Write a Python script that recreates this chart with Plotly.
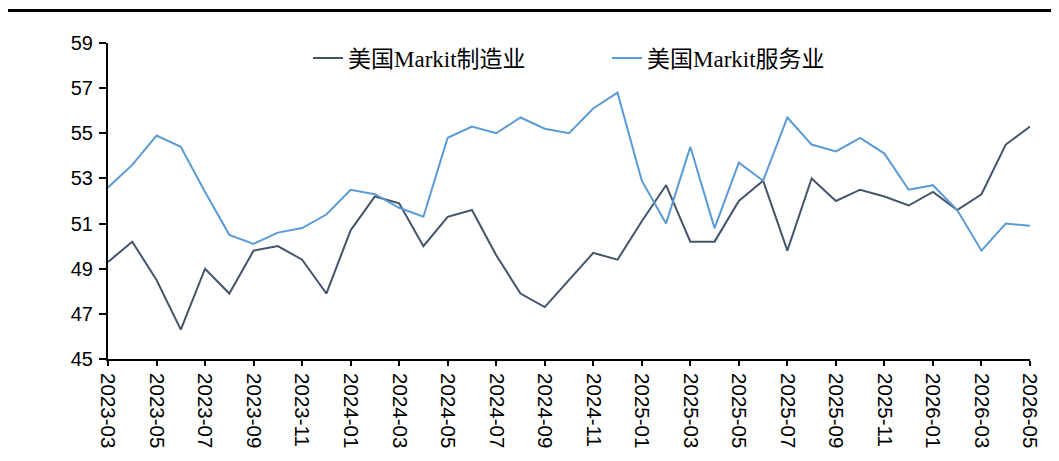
import plotly.graph_objects as go

months = [
    "2023-03", "2023-04", "2023-05", "2023-06", "2023-07", "2023-08", "2023-09", "2023-10",
    "2023-11", "2023-12", "2024-01", "2024-02", "2024-03", "2024-04", "2024-05", "2024-06",
    "2024-07", "2024-08", "2024-09", "2024-10", "2024-11", "2024-12", "2025-01", "2025-02",
    "2025-03", "2025-04", "2025-05", "2025-06", "2025-07", "2025-08", "2025-09", "2025-10",
    "2025-11", "2025-12", "2026-01", "2026-02", "2026-03", "2026-04", "2026-05",
]
manufacturing = [
    49.3, 50.2, 48.5, 46.3, 49.0, 47.9, 49.8, 50.0,
    49.4, 47.9, 50.7, 52.2, 51.9, 50.0, 51.3, 51.6,
    49.6, 47.9, 47.3, 48.5, 49.7, 49.4, 51.1, 52.7,
    50.2, 50.2, 52.0, 52.9, 49.8, 53.0, 52.0, 52.5,
    52.2, 51.8, 52.4, 51.6, 52.3, 54.5, 55.3,
]
services = [
    52.6, 53.6, 54.9, 54.4, 52.4, 50.5, 50.1, 50.6,
    50.8, 51.4, 52.5, 52.3, 51.7, 51.3, 54.8, 55.3,
    55.0, 55.7, 55.2, 55.0, 56.1, 56.8, 52.9, 51.0,
    54.4, 50.8, 53.7, 52.9, 55.7, 54.5, 54.2, 54.8,
    54.1, 52.5, 52.7, 51.6, 49.8, 51.0, 50.9,
]
series_names = ["美国Markit制造业", "美国Markit服务业"]
series_colors = ["#44546A", "#5B9BD5"]
y_ticks = [45, 47, 49, 51, 53, 55, 57, 59]
x_ticks = months[::2]

fig = go.Figure()
fig.add_trace(go.Scatter(x=months, y=manufacturing, mode="lines", name=series_names[0],
                         line=dict(color=series_colors[0], width=2), legend="legend"))
fig.add_trace(go.Scatter(x=months, y=services, mode="lines", name=series_names[1],
                         line=dict(color=series_colors[1], width=2), legend="legend2"))

# page body has an 8px margin; work in page coordinates and convert
OFF = 8
W, H = 1059 - OFF, 461 - OFF
L, R, T, B = 108 - OFF, 29, 43 - OFF, 102
pw, ph = W - L - R, H - T - B

def px(x_page):
    return (x_page - OFF - L) / pw

def py(y_page):
    return (H - B - (y_page - OFF)) / ph

legend_font = dict(family="Times New Roman, Liberation Serif, Noto Sans CJK SC", size=23, color="#000000")

fig.update_layout(
    width=W, height=H,
    margin=dict(l=L, r=R, t=T, b=B),
    paper_bgcolor="white", plot_bgcolor="white",
    showlegend=True,
    legend=dict(x=px(308), y=py(58), xanchor="left", yanchor="middle", orientation="h",
                font=legend_font, bgcolor="rgba(0,0,0,0)", borderwidth=0),
    legend2=dict(x=px(607), y=py(58), xanchor="left", yanchor="middle", orientation="h",
                 font=legend_font, bgcolor="rgba(0,0,0,0)", borderwidth=0),
    xaxis=dict(
        type="category", range=[0, len(months) - 1],
        tickmode="array", tickvals=x_ticks, ticktext=x_ticks,
        tickangle=90, ticks="outside", ticklen=5, tickwidth=2, tickcolor="#000000",
        showline=True, linecolor="#000000", linewidth=2,
        showgrid=False, zeroline=False, automargin=False, ticklabelstandoff=3,
        tickfont=dict(family="Liberation Sans, Arial", size=20.5, color="#000000"),
    ),
    yaxis=dict(
        range=[45, 59], tickmode="array", tickvals=y_ticks,
        ticks="outside", ticklen=7, tickwidth=2, tickcolor="#000000",
        showline=True, linecolor="#000000", linewidth=2,
        showgrid=False, zeroline=False, automargin=False, ticklabelstandoff=2,
        tickfont=dict(family="Liberation Sans, Arial", size=20, color="#000000"),
    ),
    shapes=[dict(type="line", xref="paper", yref="paper",
                 x0=px(7), x1=px(1059), y0=py(10.5), y1=py(10.5),
                 line=dict(color="#000000", width=3))],
)

fig.write_html("out.html")
